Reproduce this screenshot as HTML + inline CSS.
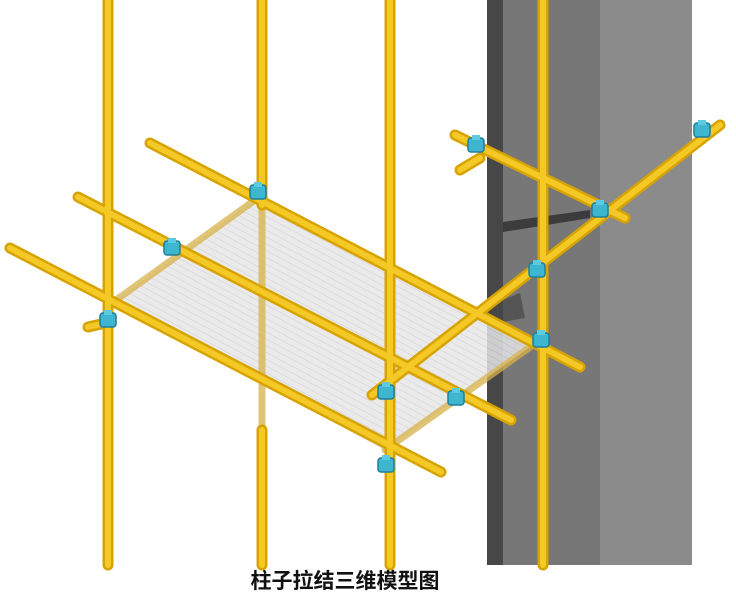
<!DOCTYPE html>
<html><head><meta charset="utf-8"><style>
body{margin:0;background:#fff;width:736px;height:600px;overflow:hidden}
.cap{position:absolute;left:0;width:690px;top:565px;text-align:center;font:bold 21px "Liberation Sans","Noto Sans CJK SC",sans-serif;color:#111}
</style></head><body>
<svg width="736" height="600" style="position:absolute;left:0;top:0">
<defs>
<pattern id="st" width="12" height="6" patternUnits="userSpaceOnUse" patternTransform="rotate(28)">
<rect width="12" height="6" fill="#e6e6e8"/><line x1="0" y1="0" x2="12" y2="0" stroke="#c8c8cc" stroke-width="1"/>
</pattern>
<g id="clamp"><rect x="-8" y="-7" width="16" height="14" rx="3" fill="#3fb6d0" stroke="#1d7f99" stroke-width="1.5"/><rect x="-4" y="-10" width="8" height="5" fill="#5ccbe0"/></g>
</defs>
<rect x="487" y="0" width="16" height="565" fill="#474747"/>
<rect x="503" y="0" width="97" height="565" fill="#777"/>
<rect x="600" y="0" width="92" height="565" fill="#8b8b8b"/>
<path d="M503 222 L590 210 L590 218 L503 232Z" fill="#3c3c3c"/>
<path d="M503 300 L520 293 L525 318 L503 322Z" fill="#555"/>
<polygon points="112,303 255,200 533,345 385,450" fill="url(#st)" opacity="0.85"/>
<g stroke="#d8b24a" stroke-width="7" opacity="0.75" stroke-linecap="round">
<line x1="112" y1="303" x2="255" y2="200"/><line x1="385" y1="450" x2="533" y2="345"/>
<line x1="262" y1="210" x2="262" y2="430"/>
</g>
<g stroke-linecap="round" fill="none">
<g stroke="#d7a300" stroke-width="11">
<line x1="108" y1="0" x2="108" y2="565"/><line x1="262" y1="0" x2="262" y2="205"/><line x1="262" y1="430" x2="262" y2="565"/>
<line x1="150" y1="143" x2="580" y2="367"/><line x1="78" y1="197" x2="511" y2="420"/>
<line x1="10" y1="248" x2="441" y2="472"/><line x1="455" y1="135" x2="625" y2="218"/>
<line x1="372" y1="395" x2="720" y2="125"/>
<line x1="390" y1="0" x2="390" y2="565"/><line x1="543" y1="0" x2="543" y2="565"/>
<line x1="88" y1="327" x2="110" y2="322"/><line x1="460" y1="170" x2="480" y2="158"/>
</g>
<g stroke="#f4c825" stroke-width="6">
<line x1="108" y1="0" x2="108" y2="565"/><line x1="262" y1="0" x2="262" y2="205"/><line x1="262" y1="430" x2="262" y2="565"/>
<line x1="150" y1="143" x2="580" y2="367"/><line x1="78" y1="197" x2="511" y2="420"/>
<line x1="10" y1="248" x2="441" y2="472"/><line x1="455" y1="135" x2="625" y2="218"/>
<line x1="372" y1="395" x2="720" y2="125"/>
<line x1="390" y1="0" x2="390" y2="565"/><line x1="543" y1="0" x2="543" y2="565"/>
<line x1="88" y1="327" x2="110" y2="322"/><line x1="460" y1="170" x2="480" y2="158"/>
</g>
</g>
<use href="#clamp" x="108" y="320"/><use href="#clamp" x="172" y="248"/><use href="#clamp" x="258" y="192"/>
<use href="#clamp" x="386" y="392"/><use href="#clamp" x="456" y="398"/><use href="#clamp" x="386" y="465"/>
<use href="#clamp" x="541" y="340"/><use href="#clamp" x="537" y="270"/><use href="#clamp" x="600" y="210"/>
<use href="#clamp" x="476" y="145"/><use href="#clamp" x="702" y="130"/>
</svg>
<div class="cap">柱子拉结三维模型图</div>
</body></html>
